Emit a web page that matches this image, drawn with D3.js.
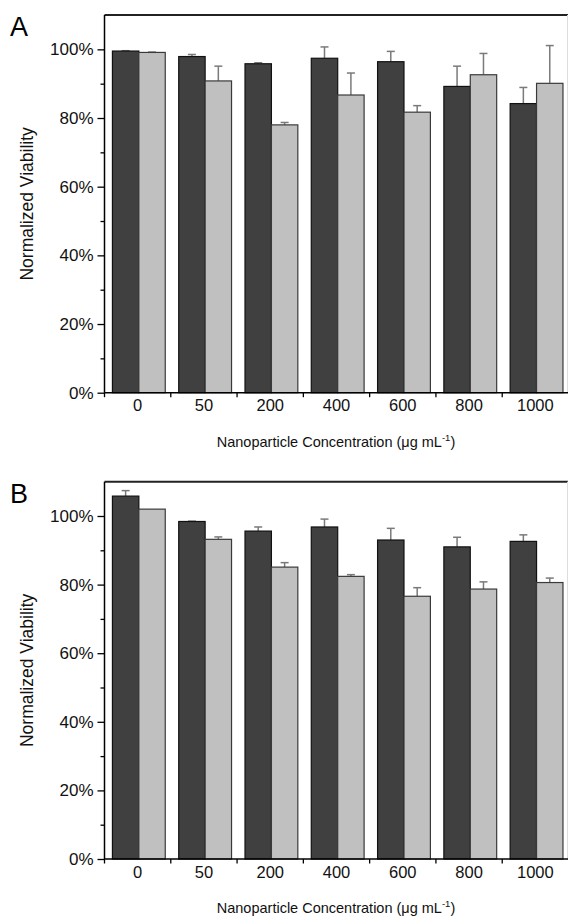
<!DOCTYPE html>
<html><head><meta charset="utf-8">
<script src="https://cdn.jsdelivr.net/npm/d3@7"></script>
<style>
html,body{margin:0;padding:0;background:#fff;}
svg{display:block;font-family:"Liberation Sans",Arial,sans-serif;}
</style></head>
<body>
<svg id="chart" width="568" height="917"></svg>
<script>
// ---- data ----
const categories = ["0","50","200","400","600","800","1000"];
const seriesNames = ["dark","light"];
const yTicks = [0,20,40,60,80,100];
const yMinorTicks = [10,30,50,70,90];
// Panel A
const aDark      = [99.5, 97.9, 95.8, 97.4, 96.4, 89.2, 84.2];
const aDarkErr   = [0.1, 0.6, 0.3, 3.3, 3.0, 5.9, 4.7];
const aLight     = [99.1, 90.8, 78.0, 86.7, 81.7, 92.6, 90.1];
const aLightErr  = [0.1, 4.3, 0.7, 6.4, 1.9, 6.2, 11.0];
// Panel B
const bDark      = [105.8, 98.4, 95.6, 96.8, 93.0, 91.0, 92.6];
const bDarkErr   = [1.6, 0.1, 1.2, 2.3, 3.4, 2.8, 1.9];
const bLight     = [102.0, 93.2, 85.1, 82.4, 76.6, 78.7, 80.6];
const bLightErr  = [0.0, 0.7, 1.3, 0.5, 2.5, 2.1, 1.3];

const svg = d3.select("#chart");
const left = 104.5, right = 568.5;
const colors = {dark:"#404040", light:"#c0c0c0"};
const strokes = {dark:"#111", light:"#3a3a3a"};
const FF = "Liberation Sans, Arial, sans-serif";

function panel(letter, top, bottom, dark, darkErr, light, lightErr, letterY){
  const g = svg.append("g");
  const x = d3.scaleBand().domain(categories).range([left, right]).paddingInner(0).paddingOuter(0);
  const xs = d3.scaleBand().domain(seriesNames).range([0, x.bandwidth()]).paddingInner(0).paddingOuter(0.255);
  const y = d3.scaleLinear().domain([0,110]).range([bottom, top]);

  const rows = categories.map((c,i)=>({c, vals:[
    {s:"dark", v:dark[i], e:darkErr[i]},
    {s:"light", v:light[i], e:lightErr[i]}]}));
  const grp = g.selectAll("g.grp").data(rows).join("g")
     .attr("transform", d=>`translate(${x(d.c)+1.2},0)`);
  grp.selectAll("g.err").data(d=>d.vals).join("g").each(function(d){
    const cx = xs(d.s)+xs.bandwidth()/2;
    const sel = d3.select(this);
    if (d.e > 0.05) {
      sel.append("line").attr("x1",cx).attr("x2",cx).attr("y1",y(d.v)).attr("y2",y(d.v+d.e))
        .attr("stroke","#7a7a7a").attr("stroke-width",1.5);
      sel.append("line").attr("x1",cx-4).attr("x2",cx+4).attr("y1",y(d.v+d.e)).attr("y2",y(d.v+d.e))
        .attr("stroke","#7a7a7a").attr("stroke-width",1.5);
    }
  });
  grp.selectAll("rect").data(d=>d.vals).join("rect")
    .attr("x", d=>xs(d.s)).attr("width", xs.bandwidth())
    .attr("y", d=>y(d.v)).attr("height", d=>y(0)-y(d.v))
    .attr("fill", d=>colors[d.s]).attr("stroke", d=>strokes[d.s]).attr("stroke-width",1.2);

  g.append("line").attr("x1",left).attr("x2",right).attr("y1",top).attr("y2",top)
    .attr("stroke","#222").attr("stroke-width",2);
  g.append("line").attr("x1",567.5).attr("x2",567.5).attr("y1",top).attr("y2",bottom)
    .attr("stroke","#ddd").attr("stroke-width",1);

  const yAxis = d3.axisLeft(y).tickValues(yTicks).tickFormat(d=>d+"%").tickSize(7).tickPadding(4);
  const ya = g.append("g").attr("transform",`translate(${left},0)`).call(yAxis);
  ya.select(".domain").attr("d", `M0,${top}V${bottom}`).attr("stroke","#000").attr("stroke-width",1.5);
  ya.selectAll(".tick line").attr("stroke","#000").attr("stroke-width",1.3);
  ya.selectAll("text").attr("font-size",17).attr("fill","#111").attr("font-family",FF);
  const yMinor = d3.axisLeft(y).tickValues(yMinorTicks).tickFormat("").tickSize(4);
  const ym = g.append("g").attr("transform",`translate(${left},0)`).call(yMinor);
  ym.select(".domain").remove();
  ym.selectAll(".tick line").attr("stroke","#000").attr("stroke-width",1.3);

  const xAxis = d3.axisBottom(x).tickSize(0).tickPadding(7);
  const xa = g.append("g").attr("transform",`translate(0,${bottom})`).call(xAxis);
  xa.select(".domain").attr("d", `M${left},0H${right}`).attr("stroke","#000").attr("stroke-width",1.5);
  xa.selectAll("text").attr("font-size",16.5).attr("fill","#111").attr("font-family",FF);
  const bounds = categories.slice(1).map(c=>x(c)).concat([left]);
  g.selectAll("line.bt").data(bounds).join("line").attr("class","bt")
    .attr("x1",d=>d).attr("x2",d=>d).attr("y1",bottom).attr("y2",bottom+4.5)
    .attr("stroke","#000").attr("stroke-width",1.3);

  const t = g.append("text").attr("x",(left+right)/2 - 0.5).attr("y",bottom+54)
    .attr("text-anchor","middle").attr("font-size",14.5).attr("fill","#111").attr("font-family",FF);
  t.append("tspan").text("Nanoparticle Concentration (μg mL");
  t.append("tspan").attr("font-size",9.5).attr("dy",-6).text("-1");
  t.append("tspan").attr("dy",6).text(")");

  g.append("text").attr("transform",`translate(33,${(top+bottom)/2}) rotate(-90)`)
    .attr("text-anchor","middle").attr("font-size",17.5).attr("fill","#111").attr("font-family",FF)
    .text("Normalized Viability");

  g.append("text").attr("x",10).attr("y",letterY).attr("font-size",27).attr("fill","#000")
    .attr("font-family",FF).text(letter);
}

panel("A", 15, 392.7, aDark, aDarkErr, aLight, aLightErr, 36);
panel("B", 481.7, 859, bDark, bDarkErr, bLight, bLightErr, 503);
</script>
</body></html>
